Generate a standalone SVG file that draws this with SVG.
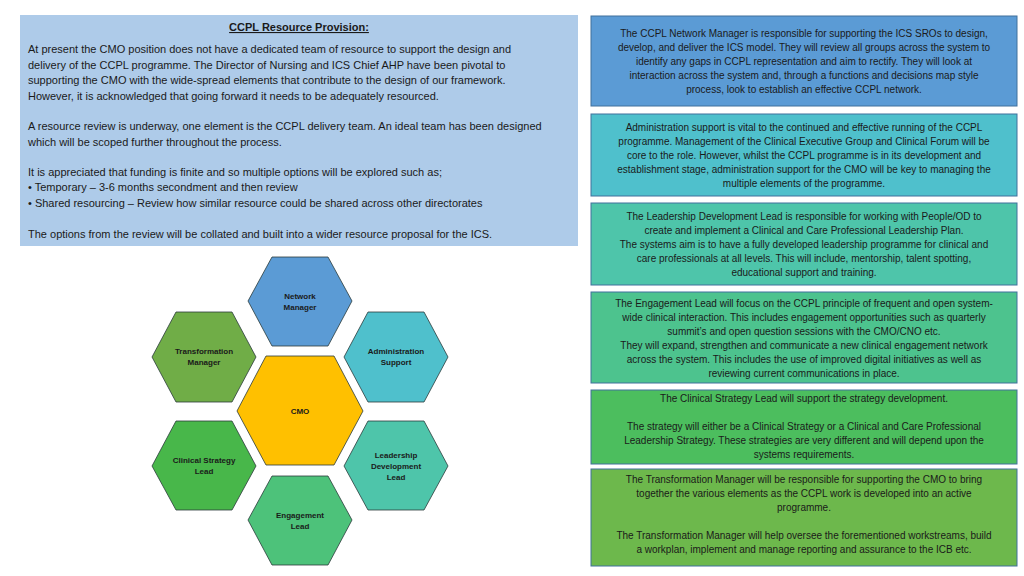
<svg xmlns="http://www.w3.org/2000/svg" width="1024" height="576" viewBox="0 0 1024 576">
<style>
text{font-family:"Liberation Sans",Arial,sans-serif;fill:#1a1a1a}
.l{font-size:11px}
.r{font-size:10px;text-anchor:middle}
.h{font-size:8px;font-weight:bold;text-anchor:middle}
.box{stroke:#41719C;stroke-width:1}
.hex{stroke:#2b3b3b;stroke-width:0.8}
</style>
<rect width="1024" height="576" fill="#fff"/>
<g id="resource-panel">
<rect x="20" y="15" width="558" height="231" fill="#AECBE9"/>
<text class="l" x="299" y="31" text-anchor="middle" font-weight="bold" text-decoration="underline">CCPL Resource Provision:</text>
<text class="l" x="28" y="53">At present the CMO position does not have a dedicated team of resource to support the design and</text>
<text class="l" x="28" y="69">delivery of the CCPL programme. The Director of Nursing and ICS Chief AHP have been pivotal to</text>
<text class="l" x="28" y="84">supporting the CMO with the wide-spread elements that contribute to the design of our framework.</text>
<text class="l" x="28" y="100">However, it is acknowledged that going forward it needs to be adequately resourced.</text>
<text class="l" x="28" y="130">A resource review is underway, one element is the CCPL delivery team. An ideal team has been designed</text>
<text class="l" x="28" y="146">which will be scoped further throughout the process.</text>
<text class="l" x="28" y="176">It is appreciated that funding is finite and so multiple options will be explored such as;</text>
<text class="l" x="28" y="191">•  Temporary – 3-6 months secondment and then review</text>
<text class="l" x="28" y="207">•  Shared resourcing – Review how similar resource could be shared across other directorates</text>
<text class="l" x="28" y="238">The options from the review will be collated and built into a wider resource proposal for the ICS.</text>
</g>
<g id="box-network">
<rect class="box" x="591" y="16" width="426" height="90" fill="#5B9BD5"/>
<text class="r" x="804" y="37">The CCPL Network Manager is responsible for supporting the ICS SROs to design,</text>
<text class="r" x="804" y="51">develop, and deliver the ICS model. They will review all groups across the system to</text>
<text class="r" x="804" y="65">identify any gaps in CCPL representation and aim to rectify. They will look at</text>
<text class="r" x="804" y="79">interaction across the system and, through a functions and decisions map style</text>
<text class="r" x="804" y="93">process, look to establish an effective CCPL network.</text>
</g>
<g id="box-admin">
<rect class="box" x="591" y="114" width="426" height="82" fill="#4FC0CC"/>
<text class="r" x="804" y="131">Administration support is vital to the continued and effective running of the CCPL</text>
<text class="r" x="804" y="145">programme. Management of the Clinical Executive Group and Clinical Forum will be</text>
<text class="r" x="804" y="159">core to the role. However, whilst the CCPL programme is in its development and</text>
<text class="r" x="804" y="173">establishment stage, administration support for the CMO will be key to managing the</text>
<text class="r" x="804" y="187">multiple elements of the programme.</text>
</g>
<g id="box-leadership">
<rect class="box" x="591" y="203" width="426" height="82" fill="#4EC5AA"/>
<text class="r" x="804" y="220">The Leadership Development Lead is responsible for working with People/OD to</text>
<text class="r" x="804" y="234">create and implement a Clinical and Care Professional Leadership Plan.</text>
<text class="r" x="804" y="248">The systems aim is to have a fully developed leadership programme for clinical and</text>
<text class="r" x="804" y="262">care professionals at all levels. This will include, mentorship, talent spotting,</text>
<text class="r" x="804" y="276">educational support and training.</text>
</g>
<g id="box-engagement">
<rect class="box" x="591" y="292" width="426" height="91" fill="#4DC38E"/>
<text class="r" x="804" y="307">The Engagement Lead will focus on the CCPL principle of frequent and open system-</text>
<text class="r" x="804" y="321">wide clinical interaction. This includes engagement opportunities such as quarterly</text>
<text class="r" x="804" y="335">summit’s and open question sessions with the CMO/CNO etc.</text>
<text class="r" x="804" y="349">They will expand, strengthen and communicate a new clinical engagement network</text>
<text class="r" x="804" y="363">across the  system. This includes the use of improved digital initiatives as well as</text>
<text class="r" x="804" y="377">reviewing current communications in place.</text>
</g>
<g id="box-clinical">
<rect class="box" x="591" y="390" width="426" height="74" fill="#4CBE5E"/>
<text class="r" x="804" y="402">The Clinical Strategy Lead will support the strategy development.</text>
<text class="r" x="804" y="430">The strategy will either be a Clinical Strategy or a Clinical and Care Professional</text>
<text class="r" x="804" y="444">Leadership Strategy. These strategies are very different and will depend upon the</text>
<text class="r" x="804" y="458">systems requirements.</text>
</g>
<g id="box-transformation">
<rect class="box" x="591" y="469" width="426" height="97" fill="#6DB84C"/>
<text class="r" x="804" y="483">The Transformation Manager will be responsible for supporting the CMO to bring</text>
<text class="r" x="804" y="497">together the various elements as the CCPL work is developed into an active</text>
<text class="r" x="804" y="511">programme.</text>
<text class="r" x="804" y="539">The Transformation Manager will help oversee the forementioned workstreams, build</text>
<text class="r" x="804" y="553">a workplan, implement and manage reporting and assurance to the ICB etc.</text>
</g>
<g id="hex-network"><polygon class="hex" fill="#5B9BD5" points="248,301 272,257 328,257 352,301 328,346 272,346"/><text class="h" x="300" y="299">Network</text><text class="h" x="300" y="310">Manager</text></g>
<g id="hex-transformation"><polygon class="hex" fill="#70AD47" points="152,357 176,312 232,312 256,357 232,402 176,402"/><text class="h" x="204" y="354">Transformation</text><text class="h" x="204" y="365">Manager</text></g>
<g id="hex-admin"><polygon class="hex" fill="#4FC0CC" points="344,357 368,312 424,312 448,357 424,402 368,402"/><text class="h" x="396" y="354">Administration</text><text class="h" x="396" y="365">Support</text></g>
<g id="hex-cmo"><polygon class="hex" fill="#FFC000" points="237,411 266,356 334,356 363,411 334,465 266,465"/><text class="h" x="300" y="414">CMO</text></g>
<g id="hex-clinical"><polygon class="hex" fill="#48B74A" points="152,466 176,421 232,421 256,466 232,510 176,510"/><text class="h" x="204" y="463">Clinical Strategy</text><text class="h" x="204" y="474">Lead</text></g>
<g id="hex-leadership"><polygon class="hex" fill="#4EC5AA" points="344,466 368,421 424,421 448,466 424,510 368,510"/><text class="h" x="396" y="458">Leadership</text><text class="h" x="396" y="469">Development</text><text class="h" x="396" y="480">Lead</text></g>
<g id="hex-engagement"><polygon class="hex" fill="#4DC27A" points="248,520 272,476 328,476 352,520 328,565 272,565"/><text class="h" x="300" y="518">Engagement</text><text class="h" x="300" y="529">Lead</text></g>
<g id="connectors"></g>
</svg>
